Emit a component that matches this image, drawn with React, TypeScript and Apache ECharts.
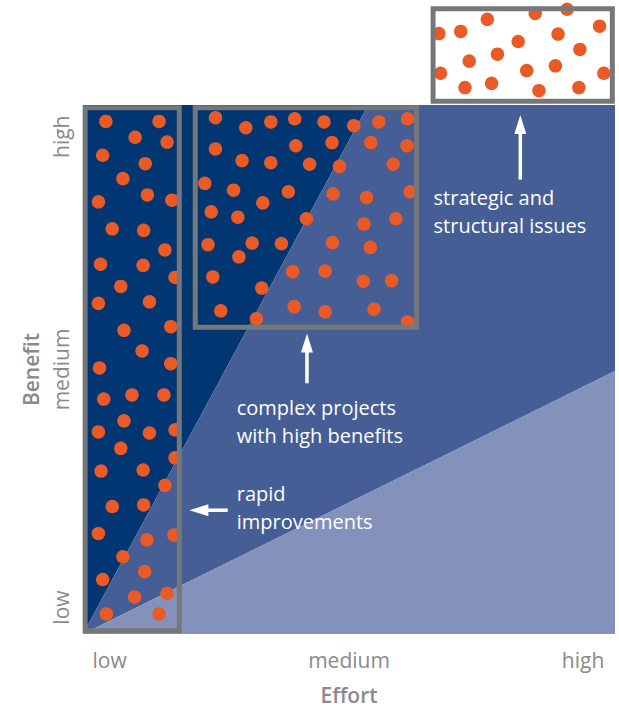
import React, { useEffect, useRef } from "react";
import * as echarts from "echarts";

// ---- tick labels ----
const tickPositions = [5, 50, 94];
const effortTicks = ["low", "medium", "high"];
const benefitTicks = ["low", "medium", "high"];

// ---- zones (effort, benefit) ----
const darkZone = [[0, 0], [0, 100], [53.6, 100]];
const middleZone = [[0, 0], [53.6, 100], [100, 100], [100, 49.7]];
const lightZone = [[0, 0], [100, 49.7], [100, 0]];

// ---- projects (effort, benefit) ----
const rapidDots = [
  [4.3, 96.9], [14.3, 96.9], [9.8, 93.9], [15.8, 93.0], [3.7, 90.5], [11.7, 88.9],
  [7.5, 86.1], [2.9, 81.7], [12.1, 83.0], [16.7, 82.0], [5.5, 76.6], [11.4, 76.3],
  [15.4, 72.6], [3.3, 69.9], [11.3, 69.7], [17.3, 67.4], [7.1, 65.7], [2.9, 62.5],
  [12.5, 62.8], [7.7, 57.4], [16.5, 58.1], [11.1, 53.5], [3.1, 50.3], [16.5, 51.1],
  [3.9, 44.4], [9.2, 45.2], [15.2, 45.2], [7.7, 40.3], [2.9, 38.2], [12.5, 38.0],
  [17.3, 38.6], [7.1, 35.1], [17.3, 33.3], [3.4, 30.8], [11.3, 31.0], [15.4, 28.1],
  [5.5, 24.1], [11.4, 24.4], [2.9, 19.0], [12.0, 17.8], [17.1, 18.7], [7.5, 14.6],
  [11.6, 11.8], [3.7, 10.3], [9.7, 7.0], [15.8, 7.7], [4.4, 3.8], [14.3, 3.8],
];
const complexDots = [
  [24.9, 97.6], [30.6, 95.7], [35.3, 96.8], [39.8, 97.4], [45.3, 96.8], [50.9, 96.1],
  [55.6, 96.8], [61.0, 97.4], [24.9, 91.7], [40.0, 92.3], [46.8, 92.9], [54.1, 92.9],
  [60.9, 92.3], [29.9, 89.5], [35.3, 89.1], [42.6, 88.8], [48.2, 88.4], [58.3, 88.8],
  [22.9, 85.2], [28.3, 83.9], [38.6, 83.6], [33.8, 81.5], [47.0, 83.2], [53.3, 82.5],
  [61.5, 83.6], [24.1, 79.8], [29.1, 78.8], [42.0, 78.5], [52.8, 77.5], [58.8, 78.5],
  [23.5, 73.6], [31.8, 73.9], [37.3, 73.8], [46.9, 74.0], [54.0, 73.1], [29.3, 71.3],
  [24.4, 67.5], [39.4, 68.5], [45.5, 68.6], [52.7, 66.7], [58.0, 66.8], [33.6, 65.4],
  [25.9, 61.1], [32.6, 59.6], [39.7, 61.9], [45.5, 60.9], [54.7, 61.4], [61.0, 59.0],
];
const strategicDots = [
  [66.9, 113.5], [71.0, 113.9], [76.0, 116.2], [85.0, 117.3], [91.0, 118.1], [97.1, 114.9],
  [81.8, 112.0], [89.3, 113.4], [93.4, 110.5], [72.6, 108.3], [77.9, 109.6], [67.2, 106.0],
  [83.4, 106.5], [88.8, 107.4], [97.9, 106.0], [71.8, 103.3], [76.8, 104.1], [85.7, 102.7],
  [93.2, 103.3],
];

// ---- group boxes [x1, y1, x2, y2] ----
const boxes = [
  [0.4, 0.6, 18.1, 99.5],
  [21.1, 58.0, 62.7, 99.5],
  [65.8, 100.7, 99.5, 118.2],
];

// ---- annotation arrows [tailX, tailY, tipX, tipY] ----
const arrows = [
  [82.2, 85.9, 82.2, 98.1],
  [42.1, 47.4, 42.1, 56.8],
  [27.2, 23.4, 20.0, 23.4],
];

// ---- annotation texts ----
const noteLines = [
  ["strategic and", "structural issues"],
  ["complex projects", "with high benefits"],
  ["rapid", "improvements"],
];
const noteAnchors = [
  [65.9, 82.5],
  [28.9, 42.9],
  [28.9, 26.5],
];

const zones = [darkZone, middleZone, lightZone];
const zoneColors = ["#003671", "#455e95", "#8491bb"];
const FONT = '"Open Sans", "Noto Sans", sans-serif';
const GRAY = "#8a8a8a";

function nearestLabel(v: number, labels: string[]) {
  let best = 0;
  tickPositions.forEach((p, i) => {
    if (Math.abs(p - v) < Math.abs(tickPositions[best] - v)) best = i;
  });
  return labels[best];
}

export default function App() {
  const ref = useRef<HTMLDivElement>(null);
  useEffect(() => {
    document.body.style.margin = "0";
    document.body.style.overflow = "hidden";
    const chart = echarts.init(ref.current!, null, { renderer: "svg" });
    const option: any = {
      animation: false,
      backgroundColor: "#ffffff",
      grid: { left: 83, right: 4, top: 105, bottom: 73 },
      xAxis: {
        type: "value",
        min: 0,
        max: 100,
        name: "Effort",
        nameLocation: "middle",
        nameGap: 50,
        nameTextStyle: { color: GRAY, fontFamily: FONT, fontSize: 21, fontWeight: 600 },
        axisLine: { show: false },
        axisTick: { show: false },
        splitLine: { show: false },
        axisLabel: {
          customValues: tickPositions,
          formatter: (v: number) => nearestLabel(v, effortTicks),
          color: GRAY,
          fontFamily: FONT,
          fontSize: 21,
          margin: 15,
        },
      },
      yAxis: {
        type: "value",
        min: 0,
        max: 100,
        name: "Benefit",
        nameLocation: "middle",
        nameGap: 42,
        nameTextStyle: { color: GRAY, fontFamily: FONT, fontSize: 21, fontWeight: 600 },
        axisLine: { show: false },
        axisTick: { show: false },
        splitLine: { show: false },
        axisLabel: {
          customValues: tickPositions,
          formatter: (v: number) => nearestLabel(v, benefitTicks),
          color: GRAY,
          fontFamily: FONT,
          fontSize: 21,
          rotate: 90,
          margin: 12,
        },
      },
      series: [
        {
          type: "custom",
          z: 1,
          silent: true,
          data: zones.map((_, i) => [i, 0]),
          renderItem: (params: any, api: any) => {
            const pts = zones[params.dataIndex].map((p) => api.coord(p));
            return {
              type: "polygon",
              shape: { points: pts },
              style: { fill: zoneColors[params.dataIndex], stroke: null },
            };
          },
        },
        {
          type: "scatter",
          z: 2,
          clip: false,
          symbol: "circle",
          symbolSize: 13.5,
          itemStyle: { color: "#ea5a27", opacity: 1 },
          data: [...rapidDots, ...complexDots, ...strategicDots],
        },
        {
          type: "custom",
          z: 3,
          silent: true,
          data: boxes.map((_, i) => [i, 0]),
          renderItem: (params: any, api: any) => {
            const b = boxes[params.dataIndex];
            const p1 = api.coord([b[0], b[3]]);
            const p2 = api.coord([b[2], b[1]]);
            return {
              type: "rect",
              shape: { x: p1[0], y: p1[1], width: p2[0] - p1[0], height: p2[1] - p1[1] },
              style: { fill: null, stroke: "#76777b", lineWidth: 5 },
            };
          },
        },
        {
          type: "custom",
          z: 4,
          silent: true,
          data: arrows.map((_, i) => [i, 0]),
          renderItem: (params: any, api: any) => {
            const a = arrows[params.dataIndex];
            const t = api.coord([a[0], a[1]]);
            const h = api.coord([a[2], a[3]]);
            const dx = h[0] - t[0];
            const dy = h[1] - t[1];
            const len = Math.sqrt(dx * dx + dy * dy);
            const ux = dx / len;
            const uy = dy / len;
            const headLen = 19;
            const headW = 6;
            const bx = h[0] - ux * headLen;
            const by = h[1] - uy * headLen;
            return {
              type: "group",
              children: [
                {
                  type: "line",
                  shape: { x1: t[0], y1: t[1], x2: bx + ux * 2, y2: by + uy * 2 },
                  style: { stroke: "#ffffff", lineWidth: 3.5 },
                },
                {
                  type: "polygon",
                  shape: {
                    points: [
                      [h[0], h[1]],
                      [bx - uy * headW, by + ux * headW],
                      [bx + uy * headW, by - ux * headW],
                    ],
                  },
                  style: { fill: "#ffffff" },
                },
              ],
            };
          },
        },
        {
          type: "custom",
          z: 5,
          silent: true,
          data: noteLines.map((_, i) => [i, 0]),
          renderItem: (params: any, api: any) => {
            const i = params.dataIndex;
            const p = api.coord(noteAnchors[i]);
            return {
              type: "group",
              children: noteLines[i].map((line, k) => ({
                type: "text",
                style: {
                  text: line,
                  x: p[0],
                  y: p[1] + k * 28,
                  fill: "#ffffff",
                  fontFamily: FONT,
                  fontSize: 20,
                  align: "left",
                  verticalAlign: "middle",
                  textAlign: "left",
                  textVerticalAlign: "middle",
                },
              })),
            };
          },
        },
      ],
    };
    chart.setOption(option);
    return () => chart.dispose();
  }, []);
  return <div ref={ref} style={{ width: 619, height: 710 }} />;
}
